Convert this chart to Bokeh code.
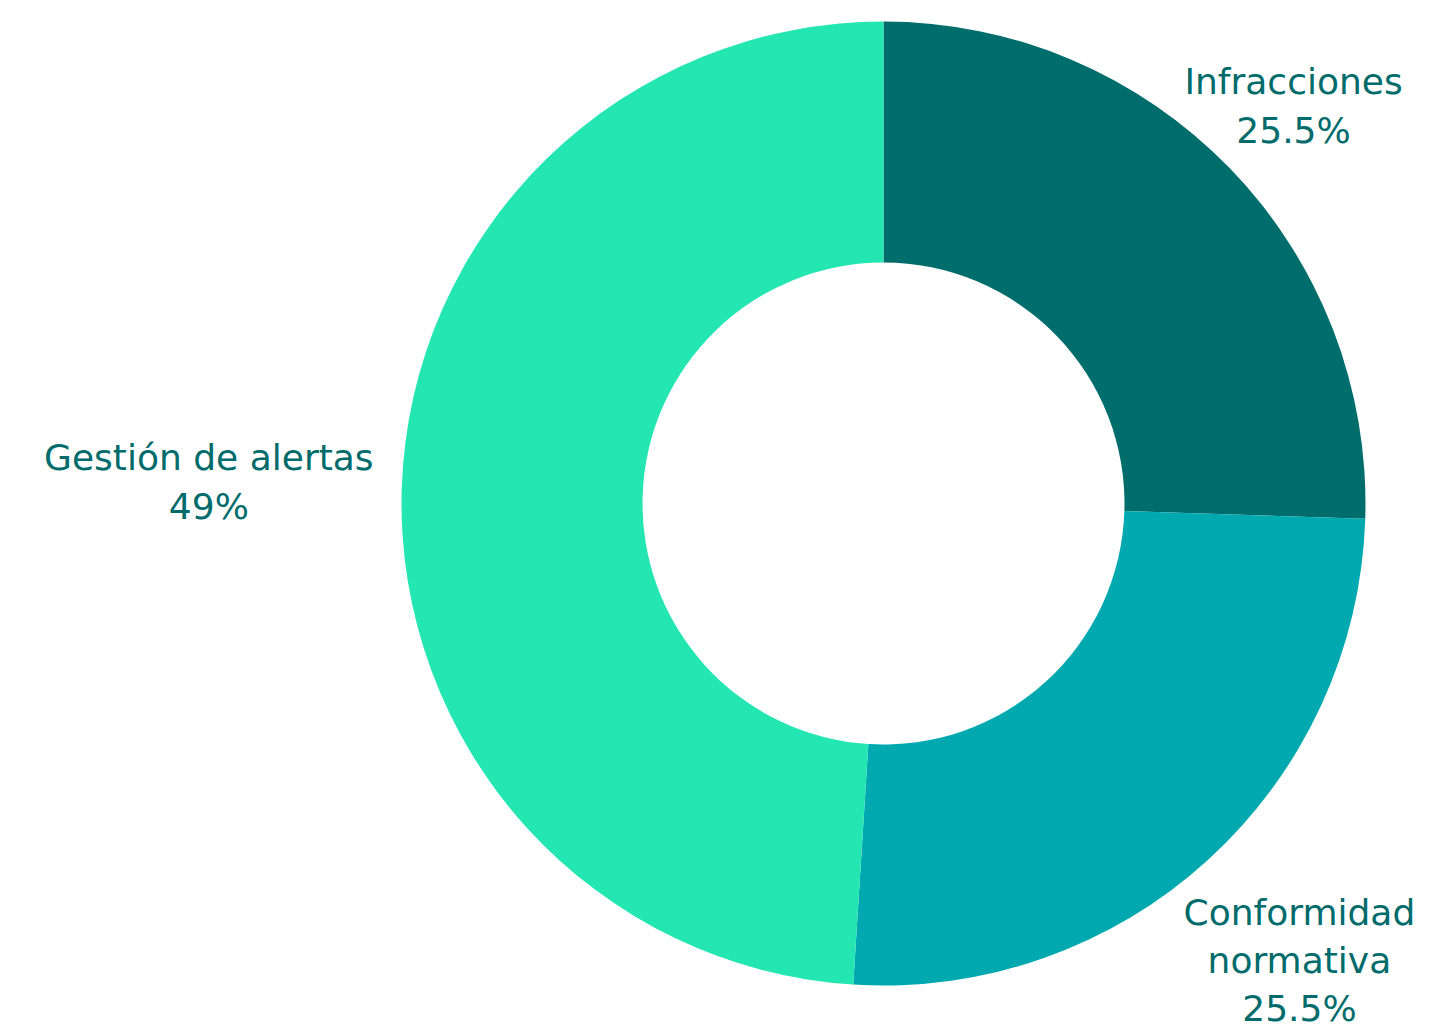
import math
from bokeh.plotting import figure
from bokeh.models import ColumnDataSource, Range1d
from bokeh.core.properties import value
from bokeh.embed import file_html
from bokeh.resources import INLINE

# ---- data ----
categories = ["Infracciones", "Conformidad\nnormativa", "Gestión de alertas"]
shares = [25.5, 25.5, 49.0]
pct_labels = ["25.5%", "25.5%", "49%"]
colors = ["#006d6d", "#00a9b0", "#23e6b2"]

# ---- layout ----
W, H = 1432, 1028
cx, cy = 883, H - 503
r_out, r_in = 482, 241
label_r = [571, 618, 675]
line_h = [1.2, 1.18, 1.2]
text_color = "#006b6b"

total = sum(shares)
starts, ends, mids = [], [], []
cum = 0.0
for s in shares:
    a0 = math.pi / 2 - 2 * math.pi * cum / total
    cum += s
    a1 = math.pi / 2 - 2 * math.pi * cum / total
    starts.append(a0)
    ends.append(a1)
    mids.append((a0 + a1) / 2)

src = ColumnDataSource(dict(start=starts, end=ends, color=colors))

p = figure(width=W, height=H, output_backend="svg", toolbar_location=None,
           x_range=Range1d(0, W), y_range=Range1d(0, H),
           min_border=0, outline_line_color=None)
p.axis.visible = False
p.grid.visible = False
p.background_fill_color = "white"
p.border_fill_color = "white"

p.annular_wedge(x=cx, y=cy, inner_radius=r_in, outer_radius=r_out,
                inner_radius_units="screen", outer_radius_units="screen",
                start_angle="start", end_angle="end", direction="clock",
                fill_color="color", line_color=None, source=src)

for i, (cat, pct) in enumerate(zip(categories, pct_labels)):
    lx = cx + label_r[i] * math.cos(mids[i])
    ly = cy + label_r[i] * math.sin(mids[i])
    p.text(x=[lx], y=[ly], text=[cat + "\n" + pct],
           text_font=value("DejaVu Sans"), text_font_size="36px",
           text_color=text_color, text_align="center", text_baseline="middle",
           text_line_height=line_h[i])

open("out.html", "w").write(file_html(p, INLINE))
